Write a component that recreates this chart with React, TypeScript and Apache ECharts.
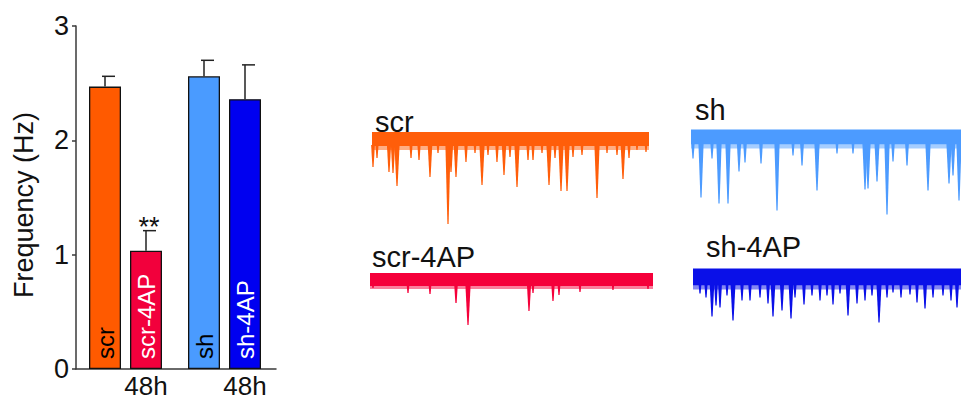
import React, { useEffect, useRef } from "react";
import * as echarts from "echarts";

// ---------- Bar chart data ----------
const groups = ["scr", "scr-4AP", "sh", "sh-4AP"];
const groupIndex = [0, 0, 1, 1];
const withinIndex = [0, 1, 0, 1];
const freqMean = [2.47, 1.035, 2.56, 2.36];
const freqSem = [0.09, 0.175, 0.14, 0.3];
const significance = ["", "**", "", ""];
const timeLabels = ["", "48h", "", "48h"];
const yTickMin = 0;
const yTickMax = 3;
const yTickStep = 1;

// ---------- Trace data: [time (s), amplitude (pA)] of sEPSC events ----------
const scrDuration = 27.7;
const scrEvents = [
  [0.1, -28], [0.5, -19], [1.7, -33], [2.1, -34], [2.5, -47], [3.9, -19],
  [4.7, -21], [5.8, -38], [6.6, -14], [7.6, -85], [7.9, -33], [8.4, -38],
  [9.4, -23], [10.3, -14], [11.0, -46], [11.6, -16], [12.5, -23], [13.2, -36],
  [13.8, -18], [14.5, -48], [15.6, -21], [16.1, -21], [17.0, -14], [17.7, -46],
  [18.3, -19], [18.9, -52], [19.5, -52], [20.1, -18], [21.0, -16], [22.5, -59],
  [23.5, -14], [24.5, -16], [25.1, -40], [25.7, -19], [26.5, -11], [27.4, -13],
];
const shDuration = 27.0;
const shEvents = [
  [0.2, -21], [1.0, -60], [2.1, -21], [2.8, -66], [3.7, -66], [4.8, -34],
  [5.4, -25], [7.0, -26], [8.6, -73], [10.2, -18], [11.1, -28], [12.6, -53],
  [14.6, -16], [16.2, -16], [17.4, -52], [17.7, -51], [18.6, -44], [19.6, -77],
  [20.2, -24], [21.6, -28], [23.7, -53], [25.8, -46], [26.2, -38], [26.8, -63],
];
const scr4apDuration = 28.3;
const scr4apEvents = [
  [0.3, -8], [3.8, -13], [6.0, -14], [8.6, -23], [9.8, -45], [15.9, -31],
  [16.3, -13], [18.3, -21], [18.9, -15], [21.0, -12], [24.3, -10], [27.8, -9],
];
const sh4apDuration = 26.8;
const sh4apEvents = [
  [0.7, -16], [1.3, -20], [1.9, -39], [2.3, -28], [2.7, -30], [3.4, -18],
  [4.0, -43], [4.9, -23], [5.7, -23], [6.7, -20], [7.5, -26], [8.0, -39],
  [8.9, -33], [9.8, -41], [10.2, -20], [11.1, -27], [11.9, -18], [12.7, -23],
  [13.4, -18], [14.0, -27], [14.7, -16], [15.5, -38], [16.4, -26], [17.2, -23],
  [17.9, -18], [18.6, -45], [19.4, -20], [20.0, -15], [20.8, -20], [21.7, -17],
  [22.4, -25], [23.2, -31], [24.0, -20], [25.0, -18], [25.8, -23], [26.4, -30],
];

const FONT = "'Liberation Sans', Arial, Helvetica, sans-serif";
const barColors = ["#FF5A00", "#F2003C", "#4A9BFF", "#0000F0"];
const labelColors = ["#000000", "#FFFFFF", "#000000", "#FFFFFF"];
const axisColor = "#3a3a3a";

type TraceCfg = {
  name: string;
  duration: number;
  events: number[][];
  color: string;
  left: number;
  baseline: number;
  up: number;
  down: number;
  fringe: number;
  labelX: number;
  labelY: number;
};

const traces: TraceCfg[] = [
  { name: "scr", duration: scrDuration, events: scrEvents, color: "#FF5E0A", left: 372, baseline: 139, up: 7, down: 7, fringe: 4, labelX: 375, labelY: 122 },
  { name: "sh", duration: shDuration, events: shEvents, color: "#4C9BFF", left: 691, baseline: 137.5, up: 8, down: 7, fringe: 4, labelX: 695, labelY: 110 },
  { name: "scr-4AP", duration: scr4apDuration, events: scr4apEvents, color: "#F5003A", left: 370, baseline: 280, up: 7, down: 6, fringe: 3, labelX: 372, labelY: 257 },
  { name: "sh-4AP", duration: sh4apDuration, events: sh4apEvents, color: "#0A10E8", left: 693, baseline: 277.5, up: 9, down: 8, fringe: 4, labelX: 706, labelY: 247 },
];

const PX_PER_S = 10;
const AMP_TOP = 20;
const AMP_BOTTOM = -100;

export default function App() {
  const ref = useRef<HTMLDivElement | null>(null);

  useEffect(() => {
    if (!ref.current) return;
    const chart = echarts.init(ref.current, undefined, { renderer: "svg" });

    // bar chart geometry (data units of the hidden x value axis)
    const firstSlot = 29;
    const groupPitch = 99;
    const barPitch = 41;
    const slotX = groups.map((_, i) => firstSlot + groupIndex[i] * groupPitch + withinIndex[i] * barPitch);

    const grids: any[] = [{ left: 76, top: 26, width: 200, height: 343 }];
    const xAxes: any[] = [
      {
        gridIndex: 0, type: "value", min: 0, max: 200,
        axisLine: { show: true, lineStyle: { color: axisColor, width: 1.5 } },
        axisTick: { show: false }, axisLabel: { show: false }, splitLine: { show: false },
      },
    ];
    const yAxes: any[] = [
      {
        gridIndex: 0, type: "value", min: yTickMin, max: yTickMax, interval: yTickStep,
        axisLine: { show: true, lineStyle: { color: axisColor, width: 1.5 } },
        axisTick: { show: true, length: 4, lineStyle: { color: axisColor, width: 1.5 } },
        axisLabel: { show: true, margin: 7, fontSize: 27, color: "#111", fontFamily: FONT },
        splitLine: { show: false },
      },
    ];

    const series: any[] = [
      {
        type: "bar",
        xAxisIndex: 0, yAxisIndex: 0,
        barWidth: 32,
        data: groups.map((g, i) => ({
          name: g,
          value: [slotX[i], freqMean[i]],
          itemStyle: { color: barColors[i], borderColor: "#111", borderWidth: 1.3 },
          label: { color: labelColors[i] },
        })),
        label: {
          show: true,
          position: "insideBottom",
          distance: 10,
          rotate: 90,
          align: "left",
          verticalAlign: "middle",
          fontSize: 24,
          fontFamily: FONT,
          formatter: (p: any) => p.name,
        },
        z: 2,
      },
      {
        type: "custom",
        xAxisIndex: 0, yAxisIndex: 0,
        data: groups.map((_, i) => [slotX[i], freqMean[i], freqSem[i], i]),
        renderItem: (params: any, api: any) => {
          const x = api.value(0);
          const m = api.value(1);
          const e = api.value(2);
          const i = api.value(3);
          const base = api.coord([x, m]);
          const top = api.coord([x, m + e]);
          const zero = api.coord([x, 0]);
          const children: any[] = [
            { type: "line", shape: { x1: base[0], y1: base[1], x2: top[0], y2: top[1] }, style: { stroke: "#222", lineWidth: 1.5 } },
            { type: "line", shape: { x1: top[0] - 3, y1: top[1], x2: top[0] + 10, y2: top[1] }, style: { stroke: "#222", lineWidth: 1.5 } },
          ];
          if (significance[i]) {
            children.push({
              type: "text", x: top[0] + 3, y: top[1] - 4,
              style: { text: significance[i], fontSize: 27, fontFamily: FONT, fill: "#111", align: "center", verticalAlign: "middle" },
            });
          }
          if (timeLabels[i]) {
            children.push({
              type: "text", x: zero[0], y: zero[1] + 17,
              style: { text: timeLabels[i], fontSize: 26, fontFamily: FONT, fill: "#111", align: "center", verticalAlign: "middle" },
            });
          }
          return { type: "group", children };
        },
        z: 3,
      },
    ];

    const graphics: any[] = [
      {
        type: "text", x: 24, y: 205, rotation: Math.PI / 2,
        style: { text: "Frequency (Hz)", fontSize: 27, fontFamily: FONT, fill: "#111", align: "center", verticalAlign: "middle" },
      },
    ];

    traces.forEach((t, k) => {
      const gi = k + 1;
      grids.push({
        left: t.left,
        top: t.baseline - AMP_TOP,
        width: t.duration * PX_PER_S,
        height: AMP_TOP - AMP_BOTTOM,
      });
      xAxes.push({ gridIndex: gi, type: "value", min: 0, max: t.duration, show: false });
      yAxes.push({ gridIndex: gi, type: "value", min: AMP_BOTTOM, max: AMP_TOP, show: false });
      const flat = [[0, 0], [t.duration, 0]];
      // lower fringe of small events
      series.push({
        type: "line", xAxisIndex: gi, yAxisIndex: gi, symbol: "none", silent: true,
        data: flat.map((p) => [p[0], -t.down - t.fringe / 2]),
        lineStyle: { color: t.color, width: t.fringe, opacity: 0.5 },
      });
      // solid noise band
      series.push({
        type: "line", xAxisIndex: gi, yAxisIndex: gi, symbol: "none", silent: true,
        data: flat.map((p) => [p[0], (t.up - t.down) / 2]),
        lineStyle: { color: t.color, width: t.up + t.down },
      });
      // events (tapered downward deflections)
      series.push({
        type: "custom", xAxisIndex: gi, yAxisIndex: gi, silent: true,
        data: t.events,
        renderItem: (params: any, api: any) => {
          const p0 = api.coord([api.value(0), -t.down + 1]);
          const p1 = api.coord([api.value(0), api.value(1)]);
          const depth = p1[1] - p0[1];
          const hw = Math.min(2.6, 1 + depth / 25);
          return {
            type: "polygon",
            shape: {
              points: [
                [p0[0] - hw, p0[1]],
                [p0[0] + hw, p0[1]],
                [p1[0] + 0.6, p1[1]],
                [p1[0] - 0.6, p1[1]],
              ],
            },
            style: { fill: t.color },
          };
        },
      });
      graphics.push({
        type: "text", x: t.labelX, y: t.labelY,
        style: { text: t.name, fontSize: 29, fontFamily: FONT, fill: "#111", align: "left", verticalAlign: "middle" },
      });
    });

    chart.setOption({
      animation: false,
      backgroundColor: "#ffffff",
      grid: grids,
      xAxis: xAxes,
      yAxis: yAxes,
      series,
      graphic: graphics,
    });

    return () => chart.dispose();
  }, []);

  return (
    <div
      ref={ref}
      style={{ position: "fixed", left: 0, top: 0, width: 961, height: 400, background: "#fff" }}
    />
  );
}
